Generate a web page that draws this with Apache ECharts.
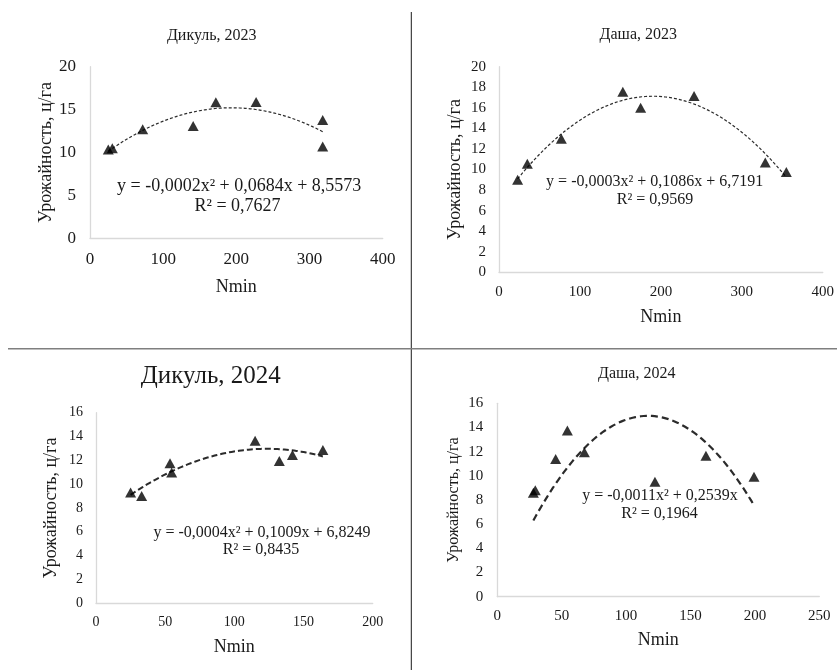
<!DOCTYPE html>
<html>
<head>
<meta charset="utf-8">
<script src="https://cdn.jsdelivr.net/npm/echarts@6/dist/echarts.min.js"></script>
<style>
html,body{margin:0;padding:0;background:#fff;}
#chart{width:837px;height:670px;}
</style>
</head>
<body>
<div id="chart"></div>
<script>
// ---- Data ----
const titles = ['Дикуль, 2023', 'Даша, 2023', 'Дикуль, 2024', 'Даша, 2024'];
const equations = [
  'y = -0,0002x² + 0,0684x + 8,5573',
  'y = -0,0003x² + 0,1086x + 6,7191',
  'y = -0,0004x² + 0,1009x + 6,8249',
  'y = -0,0011x² + 0,2539x'
];
const r2Labels = ['R² = 0,7627', 'R² = 0,9569', 'R² = 0,8435', 'R² = 0,1964'];
const xName = 'Nmin';
const yName = 'Урожайность, ц/га';

// Дикуль, 2023
const nminDikul23 = [25, 30.5, 72, 141, 172, 227, 318, 318];
const yieldDikul23 = [10.35, 10.5, 12.7, 13.1, 15.85, 15.9, 13.8, 10.7];
// Даша, 2023
const nminDasha23 = [23, 35, 77, 153, 175, 241, 329, 355];
const yieldDasha23 = [9.0, 10.55, 13.0, 17.57, 16.0, 17.15, 10.68, 9.75];
// Дикуль, 2024
const nminDikul24 = [25, 33, 53.5, 54.7, 115, 132.5, 142, 164];
const yieldDikul24 = [9.3, 9.0, 11.75, 10.97, 13.65, 11.95, 12.45, 12.87];
// Даша, 2024
const nminDasha24 = [28, 29.5, 45.3, 54.4, 67.6, 122.4, 162, 199.3];
const yieldDasha24 = [8.6, 8.8, 11.4, 13.74, 11.95, 9.52, 11.67, 9.93];

// axis ranges
const xMax = [400, 400, 200, 250];
const xStep = [100, 100, 50, 50];
const yMax = [20, 20, 16, 16];
const yStep = [5, 2, 2, 2];
// whether the trendline has an intercept (Даша, 2024 is fitted through zero)
const withIntercept = [true, true, true, false];

// ---- least-squares polynomial trendline (order 2), like the spreadsheet trendline ----
function solve(A, b) {
  const n = b.length;
  const M = A.map((r, i) => r.concat([b[i]]));
  for (let c = 0; c < n; c++) {
    let p = c;
    for (let r = c + 1; r < n; r++) if (Math.abs(M[r][c]) > Math.abs(M[p][c])) p = r;
    [M[c], M[p]] = [M[p], M[c]];
    for (let r = 0; r < n; r++) {
      if (r === c) continue;
      const f = M[r][c] / M[c][c];
      for (let k = c; k <= n; k++) M[r][k] -= f * M[c][k];
    }
  }
  return M.map((r, i) => r[n] / r[i]);
}
function fitQuad(xs, ys, intercept) {
  const basis = intercept ? [x => x * x, x => x, x => 1] : [x => x * x, x => x];
  const n = basis.length;
  const A = [], b = [];
  for (let i = 0; i < n; i++) {
    A.push([]);
    let s = 0;
    for (let k = 0; k < xs.length; k++) s += basis[i](xs[k]) * ys[k];
    b.push(s);
    for (let j = 0; j < n; j++) {
      let t = 0;
      for (let k = 0; k < xs.length; k++) t += basis[i](xs[k]) * basis[j](xs[k]);
      A[i].push(t);
    }
  }
  const c = solve(A, b);
  return x => basis.reduce((acc, f, i) => acc + c[i] * f(x), 0);
}
function trendPoints(xs, ys, intercept) {
  const f = fitQuad(xs, ys, intercept);
  const lo = Math.min(...xs), hi = Math.max(...xs);
  const pts = [];
  const N = 80;
  for (let i = 0; i <= N; i++) {
    const x = lo + (hi - lo) * i / N;
    pts.push([x, f(x)]);
  }
  return pts;
}

const allX = [nminDikul23, nminDasha23, nminDikul24, nminDasha24];
const allY = [yieldDikul23, yieldDasha23, yieldDikul24, yieldDasha24];

// ---- layout ----
const FONT = '"Liberation Serif", "Times New Roman", serif';
const grids = [
  {left: 90, top: 66.7, width: 292.7, height: 171.6},
  {left: 499, top: 66.7, width: 327, height: 205.6},
  {left: 96, top: 412.7, width: 276.7, height: 190.6},
  {left: 497.3, top: 403.3, width: 322, height: 193.4}
];
const tickFont = [17, 15, 14, 15];
const xLabelMargin = [13, 12, 12, 12];
const yLabelMargin = [14, 13, 13, 14];
const xNameGap = [40, 35.5, 34.5, 34.5];
const yNameGap = [35, 35, 35.3, 36];
const nameFont = [18, 18, 18, 18];
const yNameFont = [18, 18, 18, 16];
const trendStyle = [
  {width: 1.2, type: [3, 2]},
  {width: 1.2, type: [3, 2]},
  {width: 2, type: [6, 3]},
  {width: 2.2, type: [7, 4]}
];
const titlePos = [[211.7, 36, 16], [638.3, 35, 16], [210.8, 376.7, 25], [636.7, 373.3, 16]];
const eqPos = [[239.2, 186.7, 18], [654.7, 181.7, 16], [262, 532.7, 16], [660, 496, 16]];
const r2Pos = [[237.5, 206.7, 18], [655, 200, 16], [261, 549.3, 16], [659.5, 514, 16]];

const axisLineStyle = {color: '#d9d9d9', width: 1.3};
const xAxes = [], yAxes = [], series = [], graphics = [];
for (let i = 0; i < 4; i++) {
  xAxes.push({
    gridIndex: i, type: 'value', min: 0, max: xMax[i], interval: xStep[i],
    name: xName, nameLocation: 'middle', nameGap: xNameGap[i],
    nameTextStyle: {fontFamily: FONT, fontSize: nameFont[i], color: '#1a1a1a'},
    axisLine: {show: true, onZero: false, lineStyle: axisLineStyle},
    axisTick: {show: false}, splitLine: {show: false},
    axisLabel: {fontFamily: FONT, fontSize: tickFont[i], color: '#1a1a1a', margin: xLabelMargin[i]}
  });
  yAxes.push({
    gridIndex: i, type: 'value', min: 0, max: yMax[i], interval: yStep[i],
    name: yName, nameLocation: 'middle', nameGap: yNameGap[i], nameRotate: 90,
    nameTextStyle: {fontFamily: FONT, fontSize: yNameFont[i], color: '#1a1a1a'},
    axisLine: {show: true, onZero: false, lineStyle: axisLineStyle},
    axisTick: {show: false}, splitLine: {show: false},
    axisLabel: {fontFamily: FONT, fontSize: tickFont[i], color: '#1a1a1a', margin: yLabelMargin[i]}
  });
  series.push({
    type: 'line', xAxisIndex: i, yAxisIndex: i,
    data: trendPoints(allX[i], allY[i], withIntercept[i]),
    showSymbol: false, symbol: 'none', smooth: false, silent: true, z: 2,
    lineStyle: {color: '#2b2b2b', width: trendStyle[i].width, type: trendStyle[i].type}
  });
  series.push({
    type: 'scatter', xAxisIndex: i, yAxisIndex: i,
    data: allX[i].map((x, k) => [x, allY[i][k]]),
    symbol: 'triangle', symbolSize: [11, 10], z: 3,
    itemStyle: {color: '#000'}
  });
  graphics.push({type: 'text', x: titlePos[i][0], y: titlePos[i][1],
    style: {text: titles[i], font: titlePos[i][2] + 'px ' + FONT, fill: '#1a1a1a', align: 'center', verticalAlign: 'middle'}});
  graphics.push({type: 'text', x: eqPos[i][0], y: eqPos[i][1],
    style: {text: equations[i], font: eqPos[i][2] + 'px ' + FONT, fill: '#1a1a1a', align: 'center', verticalAlign: 'middle'}});
  graphics.push({type: 'text', x: r2Pos[i][0], y: r2Pos[i][1],
    style: {text: r2Labels[i], font: r2Pos[i][2] + 'px ' + FONT, fill: '#1a1a1a', align: 'center', verticalAlign: 'middle'}});
}
// separators between the four panels
graphics.push({type: 'line', shape: {x1: 411.3, y1: 12, x2: 411.3, y2: 670}, style: {stroke: '#1a1a1a', lineWidth: 1}});
graphics.push({type: 'line', shape: {x1: 8, y1: 348.7, x2: 837, y2: 348.7}, style: {stroke: '#7f7f7f', lineWidth: 1.5}});

const chart = echarts.init(document.getElementById('chart'), null, {renderer: 'canvas'});
chart.setOption({
  animation: false,
  backgroundColor: '#fff',
  grid: grids,
  xAxis: xAxes,
  yAxis: yAxes,
  series: series,
  graphic: graphics
});
</script>
</body>
</html>
